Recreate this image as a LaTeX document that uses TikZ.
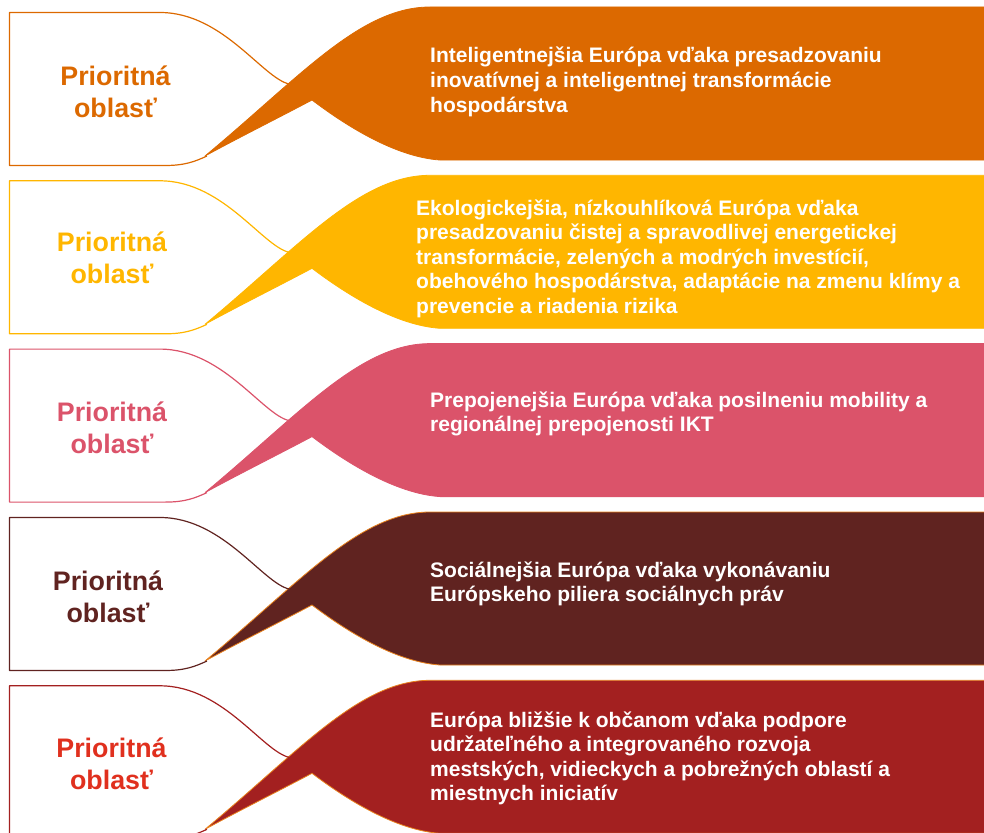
\documentclass[tikz,border=0pt]{standalone}
\usepackage{fontspec}
\setmainfont{Liberation Sans}
\definecolor{cOrange}{HTML}{DC6900}
\definecolor{cYellow}{HTML}{FFB600}
\definecolor{cPink}{HTML}{DB536A}
\definecolor{cBrown}{HTML}{602320}
\definecolor{cRed}{HTML}{A32020}
\definecolor{cRedText}{HTML}{E0301E}
\definecolor{cEdge}{HTML}{E8821E}
\begin{document}
\begin{tikzpicture}[x=1pt,y=-1pt,
  bandfill/.style={line width=0.8pt},
  boxline/.style={line width=1.2pt, line join=round},
  lefttext/.style={anchor=base, inner sep=0pt, font=\fontsize{26.8}{32}\selectfont\bfseries},
  righttext/.style={anchor=base west, inner sep=0pt, text=white, font=\fontsize{21}{24.6}\selectfont\bfseries}]
\useasboundingbox (0,0) rectangle (984,832);
\clip (0,0) rectangle (984,832);
% bands: top, fill, edge, box line
\foreach \T/\fc/\ec/\bc in {7/cOrange/cOrange/cOrange, 175.3/cYellow/cYellow/cYellow, 343.6/cPink/cPink/cPink, 512/cBrown/cEdge/cBrown, 680.3/cRed/cEdge/cRed}{
  \begin{scope}[shift={(0,\T)}]
    \filldraw[bandfill, fill=\fc, draw=\ec]
      (205,149) .. controls (300,70) and (360,0) .. (430,0) -- (990,0) -- (990,153) -- (440,153)
      .. controls (395,150) and (345,118) .. (312,93)
      .. controls (280,110) and (240,130) .. (205,149) -- cycle;
  \end{scope}
  \begin{scope}[shift={(0,\T+5.5)}]
    \draw[boxline, draw=\bc]
      (292,72) .. controls (265,70) and (225,0) .. (160,0) -- (9.5,0) -- (9.5,153) -- (165,153)
      .. controls (185,153) and (195,149) .. (207,143.5);
  \end{scope}
}
% left labels
\node[lefttext, text=cOrange] (l1) at (115.5,86) {\begin{tabular}[t]{@{}c@{}}Prioritná\\oblasť\end{tabular}};
\node[lefttext, text=cYellow] (l2) at (112,251) {\begin{tabular}[t]{@{}c@{}}Prioritná\\oblasť\end{tabular}};
\node[lefttext, text=cPink] (l3) at (112,421) {\begin{tabular}[t]{@{}c@{}}Prioritná\\oblasť\end{tabular}};
\node[lefttext, text=cBrown] (l4) at (108,590) {\begin{tabular}[t]{@{}c@{}}Prioritná\\oblasť\end{tabular}};
\node[lefttext, text=cRedText] (l5) at (111.5,757) {\begin{tabular}[t]{@{}c@{}}Prioritná\\oblasť\end{tabular}};
% right texts
\node[righttext] (r1) at (430,63) {\begin{tabular}[t]{@{}l@{}}Inteligentnejšia Európa vďaka presadzovaniu\\inovatívnej a inteligentnej transformácie\\hospodárstva\end{tabular}};
\node[righttext] (r2) at (416,215) {\begin{tabular}[t]{@{}l@{}}Ekologickejšia, nízkouhlíková Európa vďaka\\presadzovaniu čistej a spravodlivej energetickej\\transformácie, zelených a modrých investícií,\\obehového hospodárstva, adaptácie na zmenu klímy a\\prevencie a riadenia rizika\end{tabular}};
\node[righttext] (r3) at (430,407) {\begin{tabular}[t]{@{}l@{}}Prepojenejšia Európa vďaka posilneniu mobility a\\regionálnej prepojenosti IKT\end{tabular}};
\node[righttext] (r4) at (430,577) {\begin{tabular}[t]{@{}l@{}}Sociálnejšia Európa vďaka vykonávaniu\\Európskeho piliera sociálnych práv\end{tabular}};
\node[righttext] (r5) at (430,727) {\begin{tabular}[t]{@{}l@{}}Európa bližšie k občanom vďaka podpore\\udržateľného a integrovaného rozvoja\\mestských, vidieckych a pobrežných oblastí a\\miestnych iniciatív\end{tabular}};
\end{tikzpicture}
\end{document}
